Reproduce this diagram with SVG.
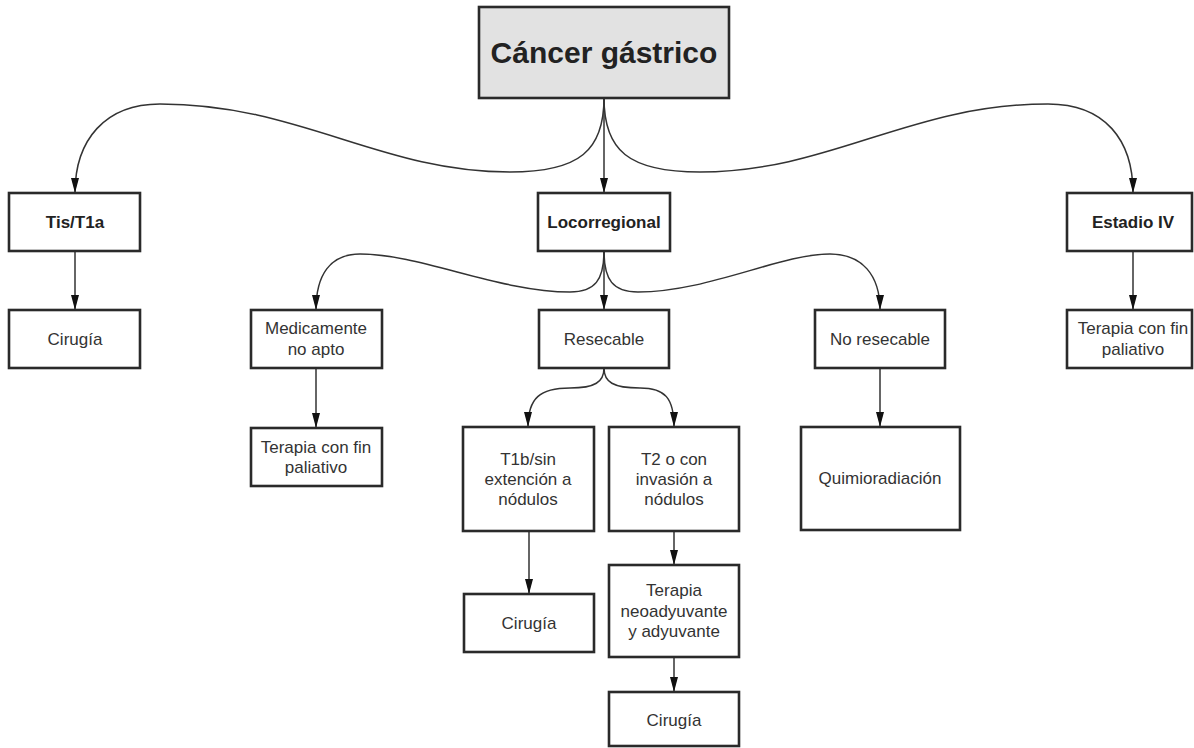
<svg xmlns="http://www.w3.org/2000/svg" width="1194" height="748" viewBox="0 0 1194 748">
<defs>
<style>
.box{fill:#fff;stroke:#2a2a2a;stroke-width:2.6}
.title{fill:#e2e2e2;stroke:#2a2a2a;stroke-width:2.6}
.t{font-family:"Liberation Sans",Arial,sans-serif;font-size:17px;fill:#333;text-anchor:middle}
.b{font-family:"Liberation Sans",Arial,sans-serif;font-size:17px;font-weight:bold;fill:#222;text-anchor:middle}
.big{font-family:"Liberation Sans",Arial,sans-serif;font-size:30px;font-weight:bold;fill:#222;text-anchor:middle}
.c{fill:none;stroke:#333;stroke-width:1.5;marker-end:url(#ah)}
</style>
<marker id="ah" markerUnits="userSpaceOnUse" viewBox="0 0 15 8" refX="15" refY="4" markerWidth="15" markerHeight="8" orient="auto">
<path d="M0,0 L15,4 L0,8 z" fill="#111"/>
</marker>
</defs>
<rect width="1194" height="748" fill="#fff"/>
<g id="connectors">
<path class="c" d="M604,98 L604,193"/>
<path class="c" d="M604,98 C604,150 580,172 510,172 C380,172 300,104 160,104 C105,104 75,140 75,193"/>
<path class="c" d="M604,98 C604,150 628,172 700,172 C830,172 910,104 1048,104 C1105,104 1133,140 1133,193"/>
<path class="c" d="M75,251 L75,310"/>
<path class="c" d="M1133,251 L1133,310"/>
<path class="c" d="M604,251 L604,310"/>
<path class="c" d="M604,251 C604,280 595,292 570,292 C500,292 420,254 360,254 C330,254 316,275 316,310"/>
<path class="c" d="M604,251 C604,280 613,292 638,292 C708,292 780,254 830,254 C862,254 880,275 880,310"/>
<path class="c" d="M316,368 L316,428"/>
<path class="c" d="M880,368 L880,427"/>
<path class="c" d="M604,368 C604,382 595,388 570,388 C540,388 528,398 528,427"/>
<path class="c" d="M604,368 C604,382 613,388 640,388 C665,388 674,398 674,427"/>
<path class="c" d="M529,531 L529,594"/>
<path class="c" d="M674,531 L674,565"/>
<path class="c" d="M674,657 L674,692"/>
</g>
<g id="n-cancer"><rect class="title" x="479" y="7" width="250" height="91"/><text class="big" x="604" y="63">Cáncer gástrico</text></g>
<g id="n-tis"><rect class="box" x="9" y="193" width="131" height="58"/><text class="b" x="75" y="228">Tis/T1a</text></g>
<g id="n-cirugia1"><rect class="box" x="9" y="310" width="131" height="58"/><text class="t" x="75" y="345">Cirugía</text></g>
<g id="n-loco"><rect class="box" x="538" y="193" width="132" height="58"/><text class="b" x="604" y="228">Locorregional</text></g>
<g id="n-estadio"><rect class="box" x="1067" y="193" width="125" height="58"/><text class="b" x="1133" y="228">Estadio IV</text></g>
<g id="n-paliativo2"><rect class="box" x="1067" y="310" width="125" height="58"/><text class="t" x="1133" y="334">Terapia con fin</text><text class="t" x="1133" y="355">paliativo</text></g>
<g id="n-medic"><rect class="box" x="251" y="310" width="131" height="58"/><text class="t" x="316" y="334">Medicamente</text><text class="t" x="316" y="355">no apto</text></g>
<g id="n-resec"><rect class="box" x="539" y="310" width="130" height="58"/><text class="t" x="604" y="345">Resecable</text></g>
<g id="n-noresec"><rect class="box" x="815" y="310" width="130" height="58"/><text class="t" x="880" y="345">No resecable</text></g>
<g id="n-paliativo1"><rect class="box" x="251" y="428" width="131" height="58"/><text class="t" x="316" y="453">Terapia con fin</text><text class="t" x="316" y="473">paliativo</text></g>
<g id="n-t1b"><rect class="box" x="463" y="427" width="131" height="104"/><text class="t" x="528" y="465">T1b/sin</text><text class="t" x="528" y="485">extención a</text><text class="t" x="528" y="505">nódulos</text></g>
<g id="n-t2"><rect class="box" x="609" y="427" width="130" height="104"/><text class="t" x="674" y="465">T2 o con</text><text class="t" x="674" y="485">invasión a</text><text class="t" x="674" y="505">nódulos</text></g>
<g id="n-quimio"><rect class="box" x="801" y="427" width="159" height="103"/><text class="t" x="880" y="484">Quimioradiación</text></g>
<g id="n-cirugia2"><rect class="box" x="464" y="594" width="130" height="58"/><text class="t" x="529" y="629">Cirugía</text></g>
<g id="n-neo"><rect class="box" x="609" y="565" width="130" height="92"/><text class="t" x="674" y="596">Terapia</text><text class="t" x="674" y="617">neoadyuvante</text><text class="t" x="674" y="637">y adyuvante</text></g>
<g id="n-cirugia3"><rect class="box" x="609" y="692" width="130" height="54"/><text class="t" x="674" y="726">Cirugía</text></g>
</svg>
